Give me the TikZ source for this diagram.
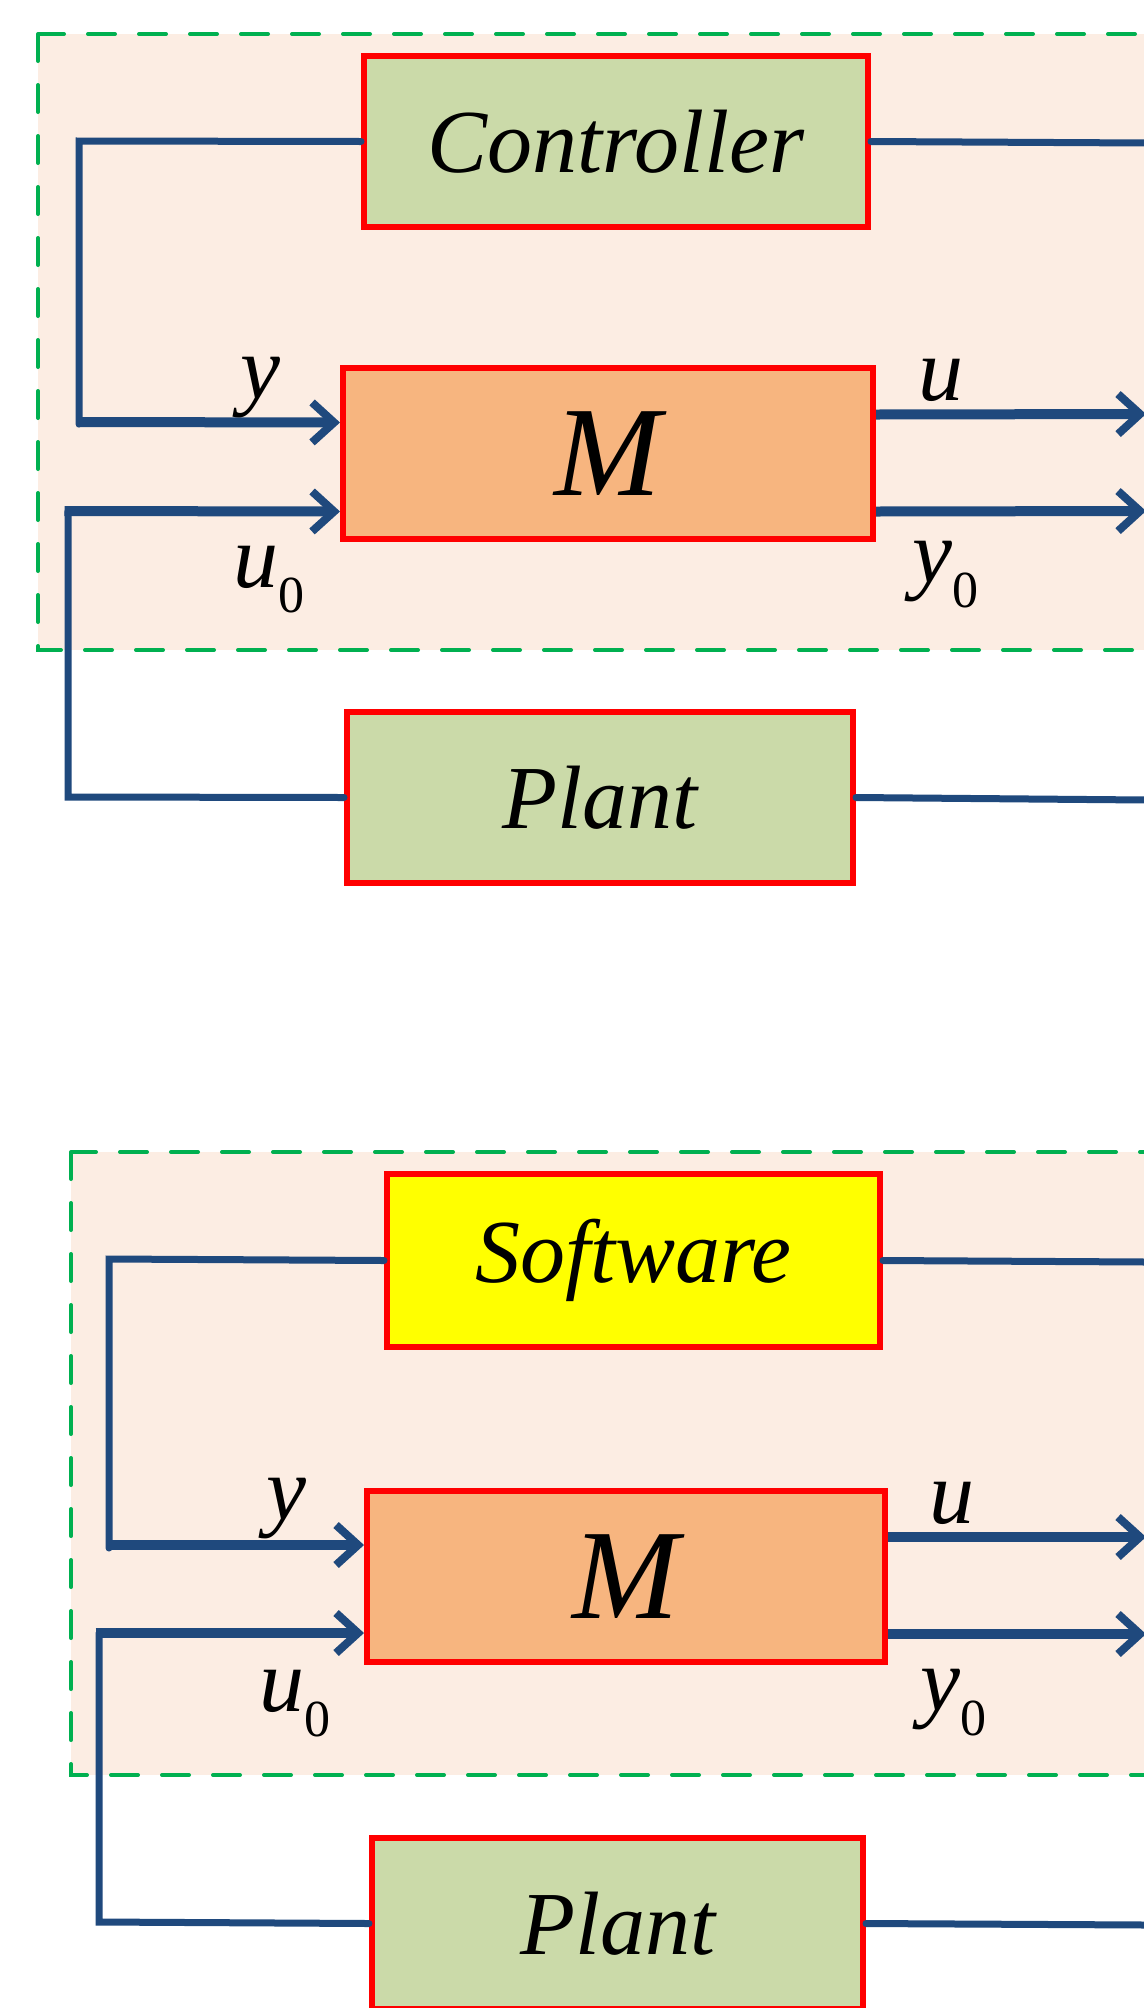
\documentclass[tikz,border=0pt]{standalone}
\usepackage{fontspec}
\setmainfont{Liberation Serif}
\usetikzlibrary{arrows.meta}

\definecolor{zonefill}{HTML}{FCEDE3}
\definecolor{zoneedge}{HTML}{00B050}
\definecolor{wire}{HTML}{1F497D}
\definecolor{greenfill}{HTML}{CBDAA9}
\definecolor{orangefill}{HTML}{F7B57F}
\definecolor{yellowfill}{HTML}{FFFF00}
\definecolor{boxedge}{HTML}{FF0000}

\tikzset{
  zone/.style={draw=zoneedge, fill=zonefill, line width=2pt, line cap=round,
    dash pattern=on 13.5pt off 12pt},
  blockbox/.style={draw=boxedge, line width=3pt, inner sep=0pt,
    font=\fontsize{45pt}{50pt}\selectfont\itshape},
  bigm/.style={blockbox, font=\fontsize{64pt}{70pt}\selectfont\itshape},
  thinwire/.style={draw=wire, line width=3.5pt, line cap=round, line join=miter},
  sigwire/.style={draw=wire, line width=5pt,
    -{Straight Barb[length=11pt, width=20pt, line width=4pt]}},
  siglabel/.style={anchor=base west, inner sep=0pt,
    font=\fontsize{45pt}{50pt}\selectfont\itshape},
}
\newcommand{\subzero}{\raisebox{-0.28em}{\fontsize{26pt}{26pt}\selectfont\upshape 0}}

\begin{document}
\begin{tikzpicture}[x=0.5pt, y=-0.5pt]
  \useasboundingbox (0,0) rectangle (1144,2008);
  \clip (0,0) rectangle (1144,2008);
  \fill[white] (0,0) rectangle (1144,2008);

  % ---------- upper loop: controller ----------
  \path[zone] (38,34) rectangle (1220,650);

  \node[blockbox, fill=greenfill, minimum width=252pt, minimum height=85.5pt]
    (ctrl) at (616,141.5) {Controller};
  \node[bigm, fill=orangefill, minimum width=265pt, minimum height=85.5pt]
    (mA) at (608,453.5) {M};
  \node[blockbox, fill=greenfill, minimum width=253pt, minimum height=85.5pt]
    (plantA) at (600,797.5) {Plant};

  \coordinate (ctrlL) at (79,141);
  \coordinate (ctrlD) at (79,424);
  \coordinate (yStartA) at (77,422);
  \coordinate (plantAL) at (68,797);
  \coordinate (plantAU) at (68,511);
  \coordinate (ctrlR) at (1146,143);
  \coordinate (plantAR) at (1146,800);
  \coordinate (uEndA) at (1146,414);
  \coordinate (yoEndA) at (1146,511);

  \draw[thinwire] (ctrl.west) -- (ctrlL) -- (ctrlD);
  \draw[sigwire] (yStartA) -- ([yshift=15.5pt]mA.west);
  \draw[thinwire] (plantA.west) -- (plantAL) -- (plantAU);
  \draw[sigwire] ([xshift=-1.75pt]plantAU) -- ([yshift=-29pt]mA.west);
  \draw[sigwire] ([yshift=19.5pt]mA.east) -- (uEndA);
  \draw[sigwire] ([yshift=-29pt]mA.east) -- (yoEndA);
  \draw[thinwire] (ctrl.east) -- (ctrlR);
  \draw[thinwire] (plantA.east) -- (plantAR);

  \node[siglabel] (yA) at (240,398) {y};
  \node[siglabel] (uA) at (918,400) {u};
  \node[siglabel] (uoA) at (233,587) {u\subzero};
  \node[siglabel] (yoA) at (912,582) {y\subzero};

  % ---------- lower loop: software ----------
  \path[zone] (71,1152) rectangle (1220,1775);

  \node[blockbox, fill=yellowfill, minimum width=246.5pt, minimum height=86.5pt]
    (soft) at (633.5,1260.5) {Software};
  \node[bigm, fill=orangefill, minimum width=259pt, minimum height=85.5pt]
    (mB) at (626,1576.5) {M};
  \node[blockbox, fill=greenfill, minimum width=245.5pt, minimum height=85.5pt]
    (plantB) at (617.5,1923.5) {Plant};

  \coordinate (softL) at (109,1259);
  \coordinate (softD) at (109,1548);
  \coordinate (yStartB) at (107,1545);
  \coordinate (plantBL) at (99,1922);
  \coordinate (plantBU) at (99,1633);
  \coordinate (softR) at (1146,1262);
  \coordinate (plantBR) at (1146,1925);
  \coordinate (uEndB) at (1146,1537);
  \coordinate (yoEndB) at (1146,1634);

  \draw[thinwire] (soft.west) -- (softL) -- (softD);
  \draw[sigwire] (yStartB) -- ([yshift=15.75pt]mB.west);
  \draw[thinwire] (plantB.west) -- (plantBL) -- (plantBU);
  \draw[sigwire] ([xshift=-1.75pt]plantBU) -- ([yshift=-28.25pt]mB.west);
  \draw[sigwire] ([yshift=19.75pt]mB.east) -- (uEndB);
  \draw[sigwire] ([yshift=-28.75pt]mB.east) -- (yoEndB);
  \draw[thinwire] (soft.east) -- (softR);
  \draw[thinwire] (plantB.east) -- (plantBR);

  \node[siglabel] (yB) at (266,1519) {y};
  \node[siglabel] (uB) at (929,1523) {u};
  \node[siglabel] (uoB) at (259,1711) {u\subzero};
  \node[siglabel] (yoB) at (920,1710) {y\subzero};
\end{tikzpicture}
\end{document}
